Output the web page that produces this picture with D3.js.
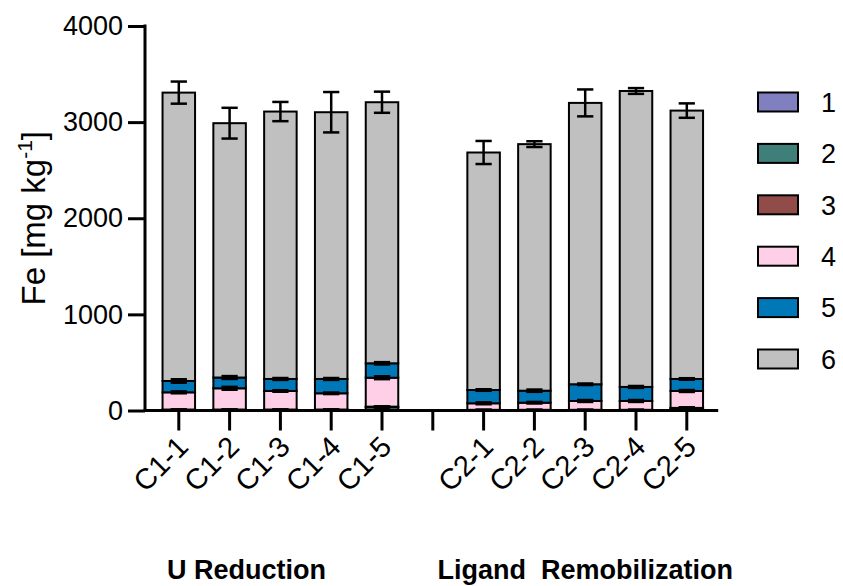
<!DOCTYPE html>
<html>
<head>
<meta charset="utf-8">
<script src="https://cdn.jsdelivr.net/npm/d3@7"></script>
<style>
  body { margin: 0; background: #fff; }
  svg { display: block; font-family: Arial, "Liberation Sans", sans-serif; }
  .axis text { font-family: Arial, "Liberation Sans", sans-serif; font-size: 27px; fill: #000; }
  .axis line, .axis path { stroke: #000; stroke-width: 3px; }
</style>
</head>
<body>
<div class="chart"></div>
<script>
// categories (a blank slot separates the two groups)
const groupU = ["C1-1", "C1-2", "C1-3", "C1-4", "C1-5"];
const groupL = ["C2-1", "C2-2", "C2-3", "C2-4", "C2-5"];
const categories = groupU.concat([""], groupL);
const groupTitles = ["U Reduction", "Ligand  Remobilization"];
const seriesNames = ["1", "2", "3", "4", "5", "6"];
const colors = ["#8080c0", "#3e7f7a", "#914c4a", "#ffcfe7", "#0078b8", "#c0c0c0"];
const yTicks = [0, 1000, 2000, 3000, 4000];

// fraction values, one per sample (gap slot has none)
const s1 = [3, 3, 3, 3, 3, 2, 2, 2, 2, 2];
const s2 = [5, 5, 5, 5, 32, 3, 3, 3, 3, 20];
const s3 = [2, 2, 2, 2, 5, 2, 2, 2, 2, 5];
const s4 = [179, 221, 193, 169, 301, 68, 74, 92, 92, 176];
const s5 = [118, 112, 125, 149, 150, 138, 125, 174, 146, 125];
const s6 = [3000, 2646, 2782, 2775, 2716, 2471, 2565, 2927, 3079, 2792];

// error (SD) per fraction
const e1 = [0, 0, 0, 0, 0, 0, 0, 0, 0, 0];
const e2 = [0, 0, 0, 0, 8, 0, 0, 0, 0, 8];
const e3 = [2, 2, 2, 2, 3, 2, 2, 2, 2, 6];
const e4 = [10, 15, 8, 8, 15, 10, 8, 10, 10, 10];
const e5 = [18, 15, 10, 10, 12, 8, 12, 8, 10, 8];
const e6 = [115, 160, 100, 210, 110, 120, 30, 140, 30, 75];

const W = 843, H = 586;
const samples = groupU.concat(groupL);
const values = [s1, s2, s3, s4, s5, s6];
const errors = [e1, e2, e3, e4, e5, e6];

const rows = samples.map(function (c, i) {
  const r = { cat: c };
  seriesNames.forEach(function (k, j) { r[k] = values[j][i]; });
  return r;
});
const stacked = d3.stack().keys(seriesNames)(rows);

const x = d3.scaleBand().domain(categories).range([153.4, 712.2])
  .paddingInner(0.36).paddingOuter(0.18);
const y = d3.scaleLinear().domain([0, 4000]).range([410.5, 26]);

const svg = d3.select('.chart').append('svg').attr('width', W).attr('height', H);
const axisX0 = 145;

// bars
const layers = svg.append('g').selectAll('g.layer')
  .data(stacked).enter().append('g')
  .attr('fill', function (d, i) { return colors[i]; });
layers.selectAll('rect')
  .data(function (d) { return d; })
  .enter().append('rect')
  .attr('x', function (d) { return x(d.data.cat); })
  .attr('width', x.bandwidth())
  .attr('y', function (d) { return y(d[1]); })
  .attr('height', function (d) { return y(d[0]) - y(d[1]); })
  .attr('stroke', '#000')
  .attr('stroke-width', 2);

// error bars on each segment top
const capW = x.bandwidth() / 2;
const errG = svg.append('g').attr('stroke', '#000').attr('stroke-width', 2.5);
stacked.forEach(function (layer, j) {
  layer.forEach(function (d, i) {
    const e = errors[j][i];
    if (!e) return;
    const cx = x(d.data.cat) + x.bandwidth() / 2;
    const t = y(d[1] + e), b = y(d[1] - e);
    errG.append('line').attr('x1', cx).attr('x2', cx).attr('y1', t).attr('y2', b);
    errG.append('line').attr('x1', cx - capW / 2).attr('x2', cx + capW / 2).attr('y1', t).attr('y2', t);
    errG.append('line').attr('x1', cx - capW / 2).attr('x2', cx + capW / 2).attr('y1', b).attr('y2', b);
  });
});

// y axis
const yAxis = d3.axisLeft(y).tickValues(yTicks).tickFormat(d3.format('d'))
  .tickSize(17).tickSizeOuter(0).tickPadding(5);
const gy = svg.append('g').attr('class', 'axis')
  .attr('transform', 'translate(' + axisX0 + ',0)').call(yAxis);
gy.select('.domain').remove();
gy.append('line').attr('x1', 0).attr('x2', 0)
  .attr('y1', y(4000) - 1.5).attr('y2', y(0) + 1.5);

// x axis
const xAxis = d3.axisBottom(x).tickSize(20).tickSizeOuter(0);
const gx = svg.append('g').attr('class', 'axis')
  .attr('transform', 'translate(0,' + y(0) + ')').call(xAxis);
gx.select('.domain').remove();
gx.append('line').attr('x1', axisX0 - 1.5).attr('x2', x.range()[1] + 6)
  .attr('y1', 0).attr('y2', 0);
gx.selectAll('.tick text')
  .attr('text-anchor', 'end')
  .attr('dy', '0.35em')
  .attr('transform', 'translate(4,31) rotate(-45)')
  .attr('x', 0).attr('y', 0)
  .style('font-size', '29px');

// y label
const yl = svg.append('text')
  .attr('transform', 'translate(45,' + ((y(0) + y(4000)) / 2) + ') rotate(-90)')
  .attr('text-anchor', 'middle')
  .style('font-size', '33px');
yl.append('tspan').text('Fe [mg kg');
yl.append('tspan').attr('dy', -13).style('font-size', '21px').text('-1');
yl.append('tspan').attr('dy', 13).text(']');

// group titles
const groups = [groupU, groupL];
const titleDx = [-34, 0];
groups.forEach(function (g, i) {
  const cx = d3.mean(g, function (c) { return x(c) + x.bandwidth() / 2; });
  svg.append('text')
    .attr('x', cx + titleDx[i]).attr('y', 579)
    .attr('text-anchor', 'middle')
    .style('font-size', '27px').style('font-weight', 'bold')
    .style('white-space', 'pre')
    .text(groupTitles[i]);
});

// legend
const leg = svg.append('g').attr('transform', 'translate(758,102)');
const legStep = 51.4;
seriesNames.forEach(function (k, i) {
  const r = leg.append('g').attr('transform', 'translate(0,' + i * legStep + ')');
  r.append('rect').attr('x', 0).attr('y', -9.5).attr('width', 40).attr('height', 19)
    .attr('fill', colors[i]).attr('stroke', '#000').attr('stroke-width', 2);
  r.append('text').attr('x', 63).attr('y', 0).attr('dy', '0.36em')
    .style('font-size', '27px').text(k);
});
</script>
</body>
</html>
